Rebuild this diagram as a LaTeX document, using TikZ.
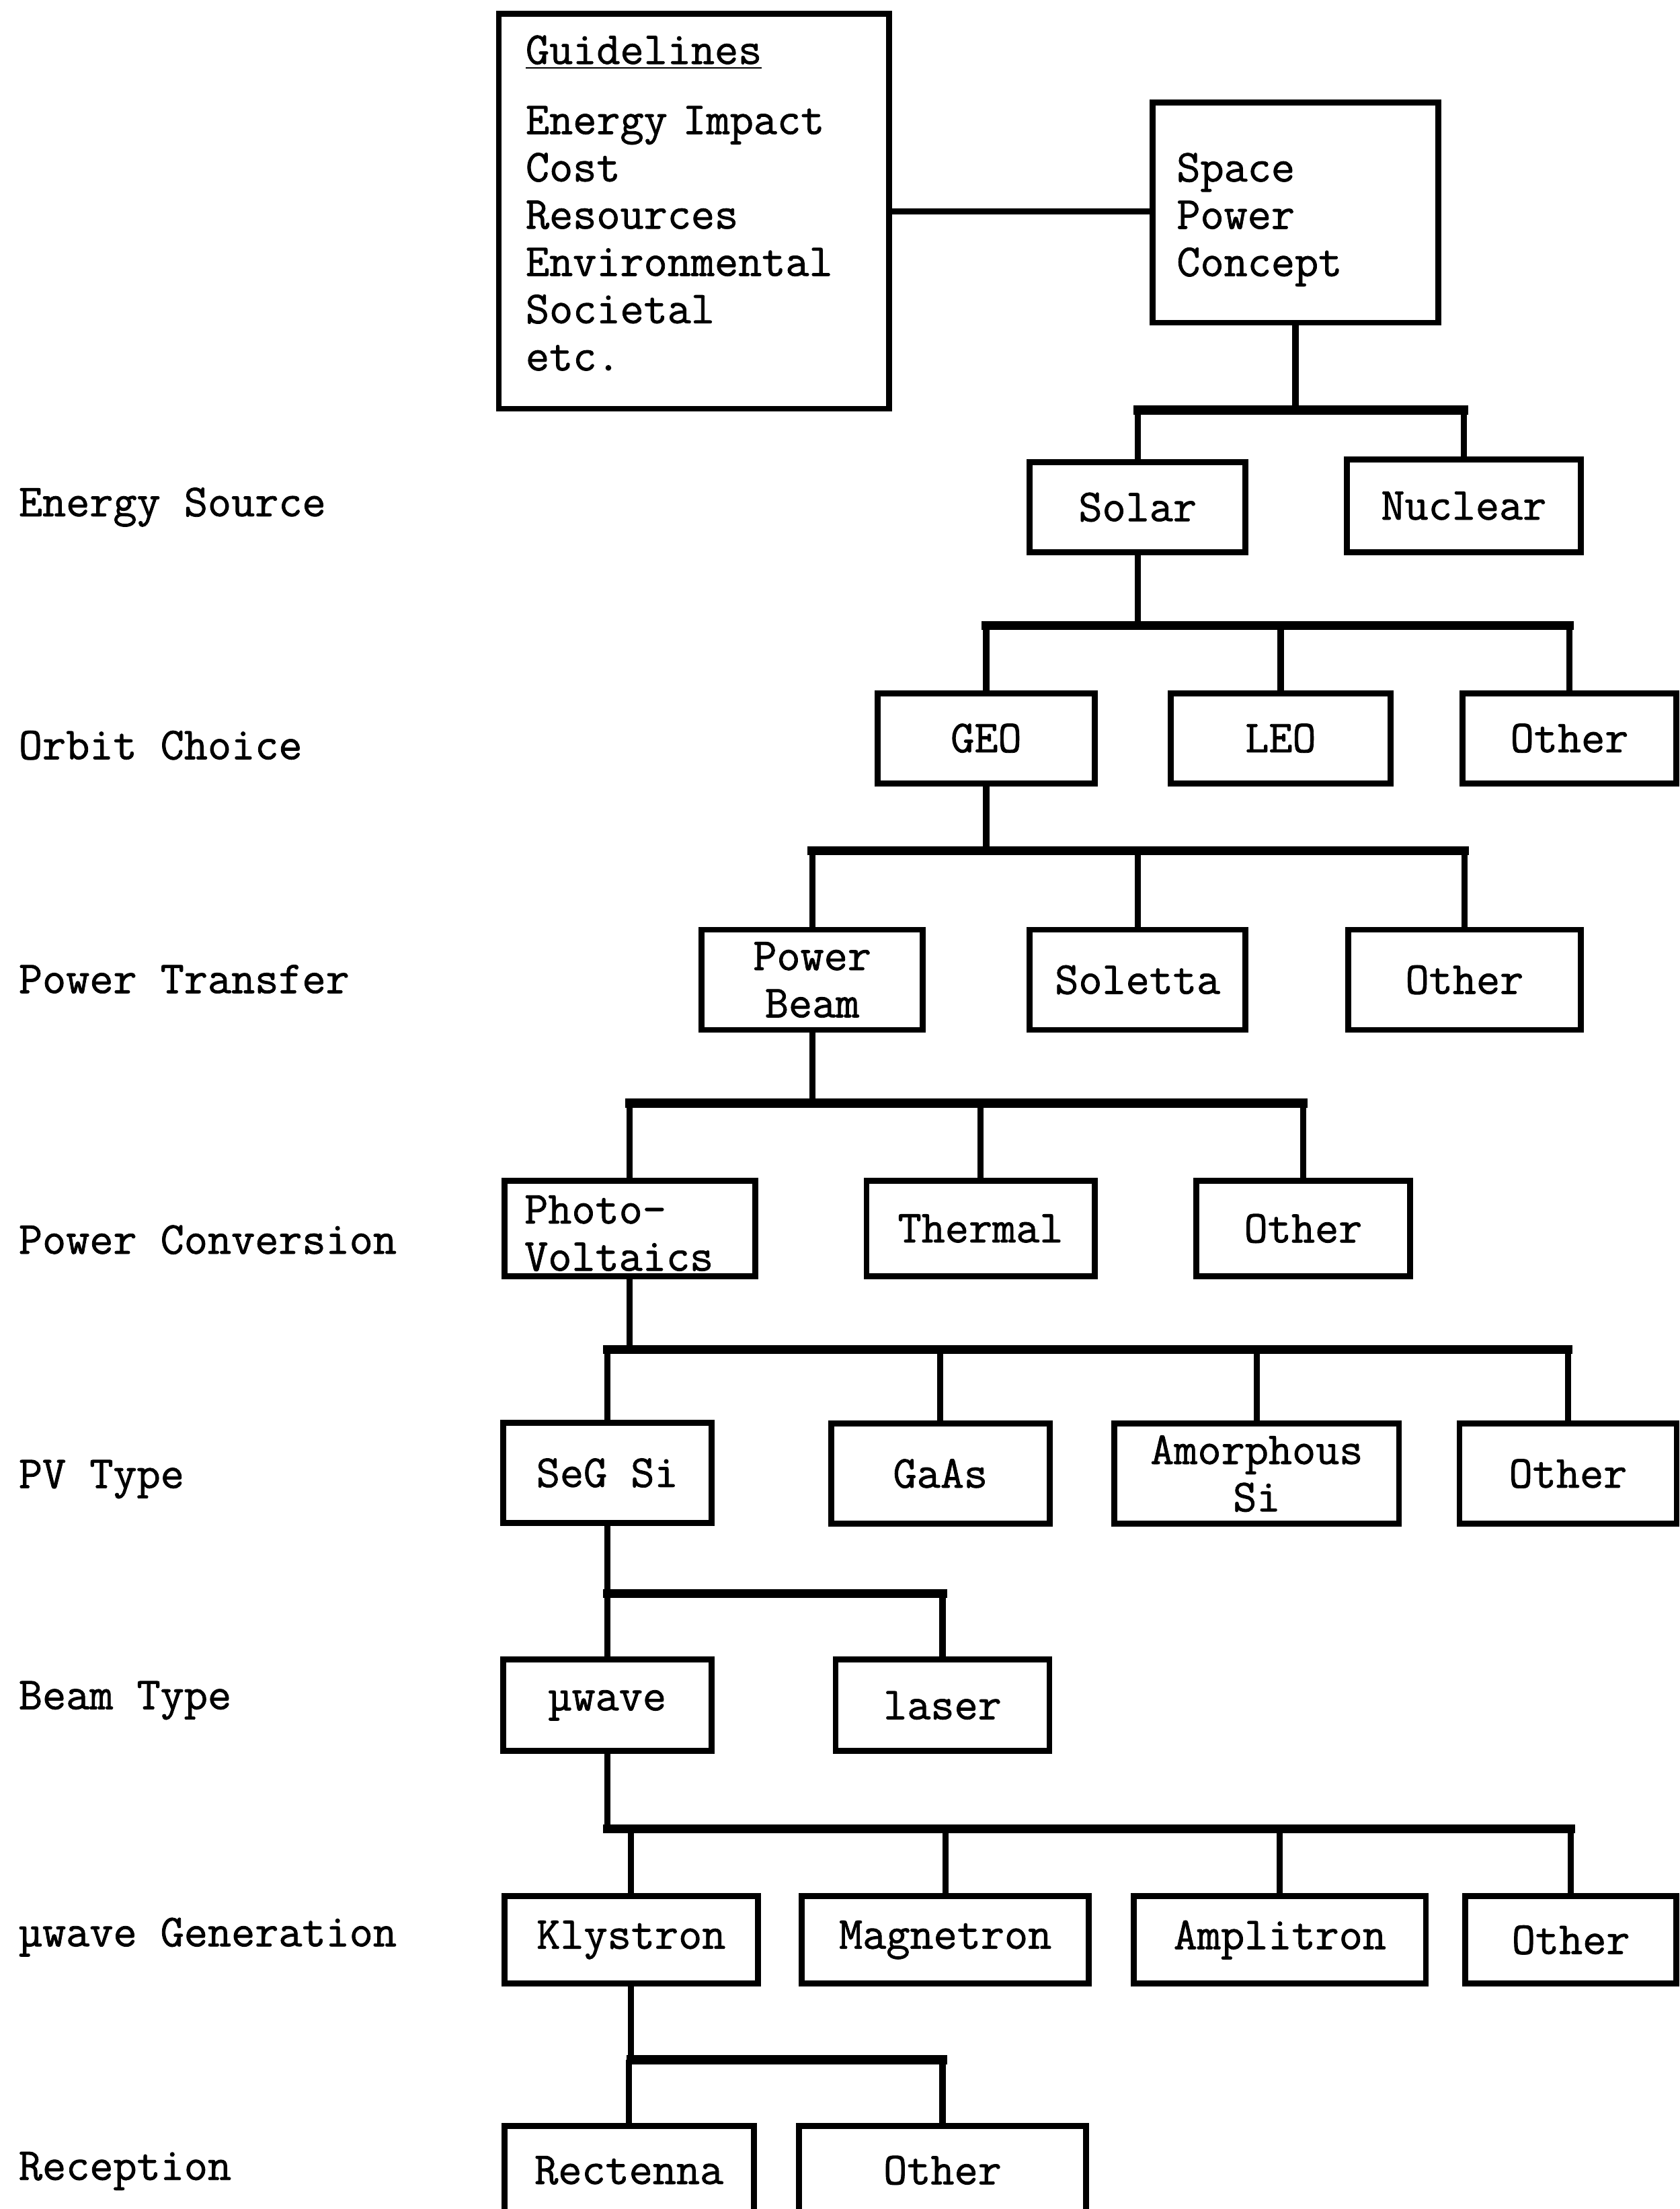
\documentclass[tikz,border=0pt]{standalone}
\usepackage{fontspec}
\newfontfamily\typed[FakeBold=1.2]{Latin Modern Mono}
\usetikzlibrary{positioning}

\begin{document}
\begin{tikzpicture}[x=0.20948mm, y=-0.20948mm,
  every node/.style={font=\typed\fontsize{19.4}{20}\selectfont},
  box/.style={draw, line width=2.5pt, inner sep=0pt, align=center, minimum height=1.36cm},
  level/.style={anchor=west, inner sep=0pt},
  link/.style={line width=2.6pt},
  bar/.style={line width=3.8pt, line cap=rect}]
\useasboundingbox (0,0) rectangle (1192,1568);

\node[box, minimum width=5.80cm, minimum height=5.87cm, align=left, text width=5.0cm] (guide) at (492.5,150)
  {\underline{Guidelines}\\[0.34cm]Energy Impact\\Cost\\Resources\\Environmental\\Societal\\etc.\rule[-0.25cm]{0pt}{0.25cm}};
\node[box, minimum width=4.25cm, minimum height=3.27cm, align=left, text width=3.53cm] (spc) at (919.5,151)
  {\rule{0pt}{0.63cm}Space\\Power\\Concept};

\node[level] (l1) at (13,360) {Energy Source};
\node[level] (l2) at (13,529) {Orbit Choice};
\node[level] (l3) at (13,695) {Power Transfer};
\node[level] (l4) at (13,880) {Power Conversion};
\node[level] (l5) at (13,1050) {PV Type};
\node[level] (l6) at (13,1207) {Beam Type};
\node[level] (l7) at (13,1375) {µwave Generation};
\node[level] (l8) at (13,1541) {Reception};

\node[box, minimum width=3.21cm, minimum height=1.34cm] (solar) at (807.5,360) {Solar};
\node[box, minimum width=3.48cm, minimum height=1.38cm] (nuclear) at (1039,359) {Nuclear};

\node[box, minimum width=3.23cm, minimum height=1.34cm] (geo) at (700,524) {GEO};
\node[box, minimum width=3.27cm, minimum height=1.34cm] (leo) at (909,524) {LEO};
\node[box, minimum width=3.18cm, minimum height=1.34cm] (oth1) at (1114,524) {Other};

\node[box, minimum width=3.29cm, minimum height=1.49cm] (pbeam) at (576.5,695.5) {Power\\Beam};
\node[box, minimum width=3.21cm, minimum height=1.49cm] (soletta) at (807.5,695.5) {Soletta};
\node[box, minimum width=3.46cm, minimum height=1.49cm] (oth2) at (1039.5,695.5) {Other};

\node[box, minimum width=3.73cm, minimum height=1.42cm, align=left, text width=3.13cm] (pvolt) at (447,872) {\rule{0pt}{0.56cm}Photo-\\Voltaics};
\node[box, minimum width=3.39cm, minimum height=1.42cm] (thermal) at (696,872) {Thermal};
\node[box, minimum width=3.18cm, minimum height=1.42cm] (oth3) at (925,872) {Other};

\node[box, minimum width=3.10cm, minimum height=1.49cm] (seg) at (431,1045.5) {SeG Si};
\node[box, minimum width=3.25cm, minimum height=1.49cm] (gaas) at (667.5,1046) {GaAs};
\node[box, minimum width=4.23cm, minimum height=1.49cm] (amor) at (892,1046) {Amorphous\\Si};
\node[box, minimum width=3.23cm, minimum height=1.49cm] (oth4) at (1113,1046) {Other};

\node[box, minimum width=3.10cm] (mu) at (431,1210.5) {µwave};
\node[box, minimum width=3.18cm] (laser) at (669,1210.5) {laser};

\node[box, minimum width=3.77cm, minimum height=1.30cm] (kly) at (448,1377) {Klystron};
\node[box, minimum width=4.27cm, minimum height=1.30cm] (mag) at (671,1377) {Magnetron};
\node[box, minimum width=4.34cm, minimum height=1.30cm] (amp) at (908.5,1377) {Amplitron};
\node[box, minimum width=3.14cm, minimum height=1.30cm] (oth5) at (1115,1377) {Other};

\node[box, minimum width=3.71cm, minimum height=1.32cm] (rect) at (446.5,1540.5) {Rectenna};
\node[box, minimum width=4.27cm, minimum height=1.32cm] (oth6) at (669,1540.5) {Other};

\coordinate (b1) at (0,291);
\coordinate (b2) at (0,444);
\coordinate (b3) at (0,604);
\coordinate (b4) at (0,783);
\coordinate (b5) at (0,958);
\coordinate (b6) at (0,1131);
\coordinate (b7) at (0,1298);
\coordinate (b8) at (0,1462);

\draw[link] (guide.east) -- (guide.east -| spc.west);

\draw[link] (spc.south) -- (spc |- b1);
\draw[bar] (solar |- b1) -- (nuclear |- b1);
\foreach \c in {solar,nuclear} \draw[link] (\c |- b1) -- (\c.north);

\draw[link] (solar.south) -- (solar |- b2);
\draw[bar] (geo |- b2) -- (oth1 |- b2);
\foreach \c in {geo,leo,oth1} \draw[link] (\c |- b2) -- (\c.north);

\draw[link] (geo.south) -- (geo |- b3);
\draw[bar] (pbeam |- b3) -- (oth2 |- b3);
\foreach \c in {pbeam,soletta,oth2} \draw[link] (\c |- b3) -- (\c.north);

\draw[link] (pbeam.south) -- (pbeam |- b4);
\draw[bar] (pvolt |- b4) -- (oth3 |- b4);
\foreach \c in {pvolt,thermal,oth3} \draw[link] (\c |- b4) -- (\c.north);

\draw[link] (pvolt.south) -- (pvolt |- b5);
\draw[bar] (seg |- b5) -- (oth4 |- b5);
\foreach \c in {seg,gaas,amor,oth4} \draw[link] (\c |- b5) -- (\c.north);

\draw[link] (seg.south) -- (seg |- b6);
\draw[bar] (mu |- b6) -- (laser |- b6);
\foreach \c in {mu,laser} \draw[link] (\c |- b6) -- (\c.north);

\draw[link] (mu.south) -- (mu |- b7);
\draw[bar] (mu |- b7) -- (oth5 |- b7);
\foreach \c in {kly,mag,amp,oth5} \draw[link] (\c |- b7) -- (\c.north);

\draw[link] (kly.south) -- (kly |- b8);
\draw[bar] (kly |- b8) -- (oth6 |- b8);
\foreach \c in {rect,oth6} \draw[link] (\c |- b8) -- (\c.north);
\end{tikzpicture}
\end{document}
